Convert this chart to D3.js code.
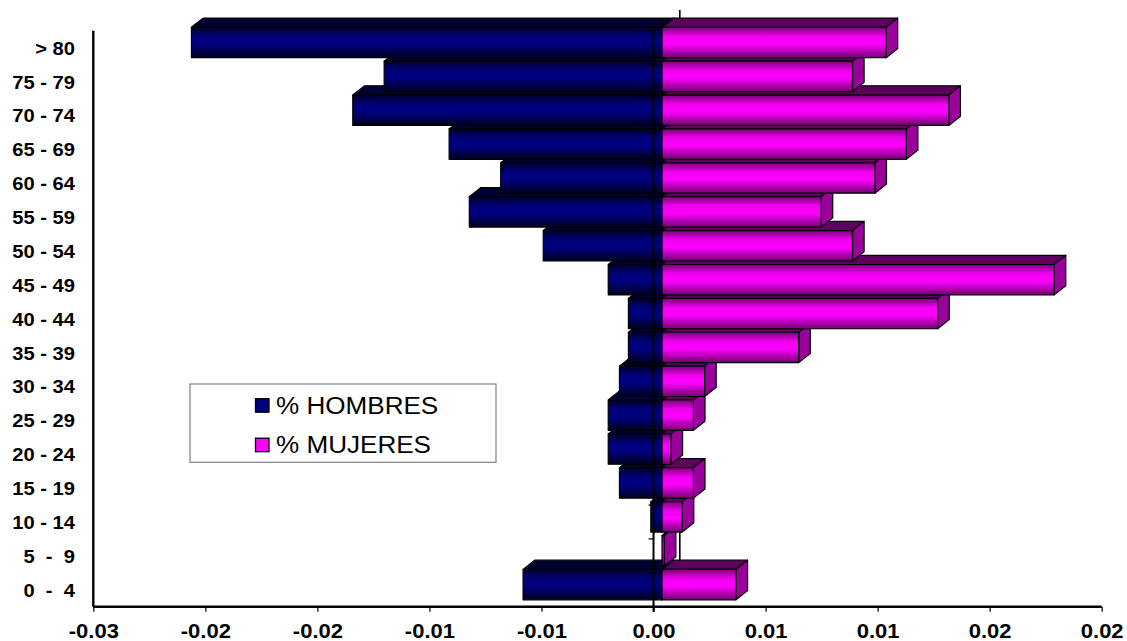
<!DOCTYPE html>
<html>
<head>
<meta charset="utf-8">
<script src="https://cdn.jsdelivr.net/npm/d3@7"></script>
<style>
  html, body { margin: 0; padding: 0; background: #ffffff; }
  svg { display: block; }
</style>
</head>
<body>
<svg id="chart" width="1127" height="641"></svg>
<script>
// ---- data ----
const categories = ["> 80", "75 - 79", "70 - 74", "65 - 69", "60 - 64", "55 - 59", "50 - 54", "45 - 49",
  "40 - 44", "35 - 39", "30 - 34", "25 - 29", "20 - 24", "15 - 19", "10 - 14", "5  -  9", "0  -  4"];
const hombres = [-0.0210, -0.0124, -0.0138, -0.0095, -0.0072, -0.0086, -0.0053, -0.0024,
  -0.0015, -0.0015, -0.0019, -0.0024, -0.0024, -0.0019, -0.0005, 0.0000, -0.0062];
const mujeres = [0.0100, 0.0085, 0.0128, 0.0109, 0.0095, 0.0071, 0.0085, 0.0175,
  0.0123, 0.0061, 0.0019, 0.0014, 0.0004, 0.0014, 0.0009, 0.0001, 0.0033];
const tickValues = [-0.025, -0.02, -0.015, -0.01, -0.005, 0, 0.005, 0.01, 0.015, 0.02];
const tickLabels = ["-0.03", "-0.02", "-0.02", "-0.01", "-0.01", "0.00", "0.01", "0.01", "0.02", "0.02"];
const seriesNames = ["% HOMBRES", "% MUJERES"];

// ---- layout ----
const svg = d3.select("#chart");
const x = d3.scaleLinear().domain([-0.025, 0.02]).range([93.3, 1101.7]);
const y = d3.scaleBand().domain(categories).range([30.7, 606.7]).padding(0);
const bw = y.bandwidth();
const DX = 11.6, DY = -9.2;     // bar depth
const SX = 8.5;                 // bar plane shift
const FONT = "'Liberation Sans', Arial, sans-serif";

const defs = svg.append("defs");
function grad(id, stops) {
  const g = defs.append("linearGradient").attr("id", id).attr("x1", 0).attr("y1", 0).attr("x2", 0).attr("y2", 1);
  stops.forEach(s => g.append("stop").attr("offset", s[0]).attr("stop-color", s[1]));
}
grad("gBlue", [[0, "#00002a"], [0.3, "#000078"], [0.55, "#000082"], [1, "#000020"]]);
grad("gPink", [[0, "#7a007a"], [0.3, "#f000f0"], [0.55, "#ff00ff"], [1, "#700070"]]);

// back zero line (behind bars)
svg.append("line")
  .attr("x1", x(0) + 26.3).attr("x2", x(0) + 26.3)
  .attr("y1", 10).attr("y2", 586)
  .attr("stroke", "#000").attr("stroke-width", 1.6);

const bars = svg.append("g");
const rows = categories.map((c, i) => ({ c, h: hombres[i], m: mujeres[i] })).reverse(); // bottom first

rows.forEach(r => {
  const g = bars.append("g");
  const y0 = y(r.c) - 3.4, y1 = y(r.c) + bw - 6.9;
  const xz = x(0) + SX;
  const xb = x(r.h) + SX, xp = x(r.m) + SX;
  const poly = pts => pts.map(p => p.join(",")).join(" ");
  const st = s => s.attr("stroke", "#000").attr("stroke-width", 1.2).attr("stroke-linejoin", "round");

  // blue top face + end face
  if (r.h < 0) {
    st(g.append("polygon").attr("points", poly([[xb, y0], [xb + DX, y0 + DY], [xz + DX, y0 + DY], [xz, y0]])).attr("fill", "#000035"));
    st(g.append("polygon").attr("points", poly([[xz, y0], [xz + DX, y0 + DY], [xz + DX, y1 + DY], [xz, y1]])).attr("fill", "#000050"));
  }
  // pink top face + side face
  if (r.m > 0) {
    st(g.append("polygon").attr("points", poly([[xz, y0], [xz + DX, y0 + DY], [xp + DX, y0 + DY], [xp, y0]])).attr("fill", "#5e005e"));
    st(g.append("polygon").attr("points", poly([[xp, y0], [xp + DX, y0 + DY], [xp + DX, y1 + DY], [xp, y1]])).attr("fill", "#9a009a"));
  }
  // front faces
  if (r.h < 0) {
    st(g.append("rect").attr("x", xb).attr("y", y0).attr("width", xz - xb).attr("height", y1 - y0).attr("fill", "url(#gBlue)"));
  }
  if (r.m > 0) {
    st(g.append("rect").attr("x", xz).attr("y", y0).attr("width", xp - xz).attr("height", y1 - y0).attr("fill", "url(#gPink)"));
  }
});

// ---- axes ----
// left value-area border (vertical)
svg.append("line").attr("x1", x(-0.025)).attr("x2", x(-0.025)).attr("y1", 30.7).attr("y2", 606.7)
  .attr("stroke", "#000").attr("stroke-width", 2.4);

// bottom axis
const xAxis = d3.axisBottom(x).tickValues(tickValues).tickSize(5).tickFormat((d, i) => tickLabels[i]);
const gx = svg.append("g").attr("transform", "translate(0,606.7)").call(xAxis);
gx.select(".domain").attr("stroke", "#000").attr("stroke-width", 2.4).attr("d", `M${x(-0.025)},0H${x(0.02)}`);
gx.selectAll(".tick line").attr("stroke", "#000").attr("stroke-width", 1.2);
gx.selectAll(".tick text").each(function () {
  const t = d3.select(this);
  t.attr("y", null).attr("dy", null)
    .attr("transform", "translate(0,31.5) scale(1.1,1)")
    .attr("font-family", FONT).attr("font-weight", "bold").attr("font-size", "20px")
    .attr("fill", "#000").attr("text-anchor", "middle");
});

// category axis at zero (drawn over bars)
const yAxis = d3.axisLeft(y).tickSize(5).tickFormat("");
const gy = svg.append("g").attr("transform", `translate(${x(0)},0)`).call(yAxis);
gy.select(".domain").attr("stroke", "#000").attr("stroke-width", 2).attr("d", `M0,27V612`);
gy.selectAll(".tick").attr("transform", d => `translate(0,${y(d)})`);
gy.selectAll(".tick line").attr("stroke", "#000").attr("stroke-width", 1.2);
gy.append("line").attr("x1", -5).attr("x2", 0).attr("y1", 606.7).attr("y2", 606.7).attr("stroke", "#000").attr("stroke-width", 1.2);

// category labels
svg.append("g").selectAll("text").data(categories).join("text")
  .attr("transform", d => `translate(75,${y(d) + bw / 2 + 7}) scale(1.09,1)`)
  .attr("text-anchor", "end")
  .attr("font-family", FONT).attr("font-weight", "bold").attr("font-size", "18.5px")
  .attr("fill", "#000")
  .style("white-space", "pre")
  .text(d => d);

// ---- legend ----
const lg = svg.append("g");
lg.append("rect").attr("x", 190).attr("y", 384).attr("width", 306).attr("height", 78.3)
  .attr("fill", "#fff").attr("stroke", "#808080").attr("stroke-width", 1.2);
const legendColors = ["#000080", "#ff00ff"];
seriesNames.forEach((name, i) => {
  const cy = i === 0 ? 405.5 : 445;
  lg.append("rect").attr("x", 255.5).attr("y", cy - 6.8).attr("width", 13.5).attr("height", 13.5)
    .attr("fill", legendColors[i]).attr("stroke", "#000").attr("stroke-width", 1.3);
  lg.append("text")
    .attr("transform", `translate(276,${cy + 8}) scale(1.11,1)`)
    .attr("font-family", FONT).attr("font-size", "23.5px").attr("fill", "#000")
    .text(name);
});
</script>
</body>
</html>
